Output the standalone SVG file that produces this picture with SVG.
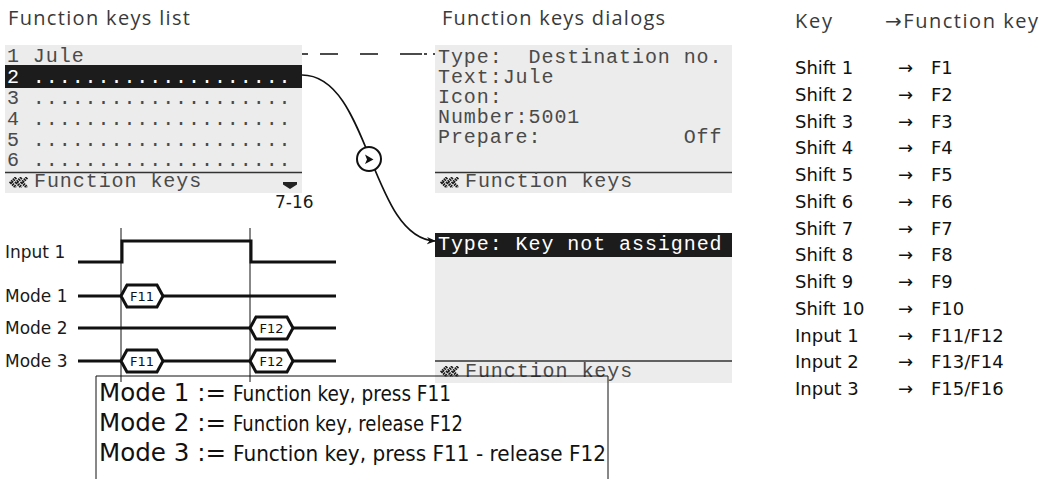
<svg xmlns="http://www.w3.org/2000/svg" width="1045" height="479" viewBox="0 0 1045 479">
<style>
.title{font-family:"Open Sans","DejaVu Sans",sans-serif;font-size:20px;fill:#3a3a3a}
.mono{font-family:"Liberation Mono","Courier New",monospace;font-size:20px;letter-spacing:0.93px;fill:#4a4a4a}
.monow{font-family:"Liberation Mono","Courier New",monospace;font-size:20px;letter-spacing:0.93px;fill:#ffffff}
.lbl{font-family:"DejaVu Sans",sans-serif;font-size:17px;fill:#1a1a1a}
.tbl{font-family:"DejaVu Sans",sans-serif;font-size:18px;fill:#111}
.hex{fill:#fff;stroke:#111;stroke-width:3;stroke-linejoin:miter}
.hext{font-family:"DejaVu Sans",sans-serif;font-size:13px;fill:#111;text-anchor:middle}
.sig{fill:none;stroke:#111;stroke-width:3}
.box{fill:#ececec}
.sep{stroke:#333;stroke-width:1.6}
.note{font-family:"DejaVu Sans",sans-serif;fill:#111}
</style>
<defs>
<symbol id="back" viewBox="0 0 20 11" width="20" height="11">
<path d="M7 0.5 L2 5.5 L7 10.5 M12.5 0.5 L7.5 5.5 L12.5 10.5 M18 0.5 L13 5.5 L18 10.5" fill="none" stroke="#1a1a1a" stroke-width="3" stroke-dasharray="1.6 0.7"/>
</symbol>
<marker id="arr" viewBox="0 0 10 10" refX="9" refY="5" markerWidth="9" markerHeight="9" orient="auto" markerUnits="userSpaceOnUse">
<path d="M0 1 L10 5 L0 9 L3 5 Z" fill="#111"/>
</marker>
</defs>

<text class="title" x="8" y="25" textLength="182" lengthAdjust="spacing">Function keys list</text>
<text class="title" x="442" y="25" textLength="223" lengthAdjust="spacing">Function keys dialogs</text>

<g id="list">
<rect class="box" x="5" y="45" width="297" height="148"/>
<rect x="5" y="65" width="297" height="23" fill="#1c1c1c"/>
<text class="mono" x="7" y="62">1 Jule</text>
<text class="monow" x="7" y="83">2 ....................</text>
<text class="mono" x="7" y="104">3 ....................</text>
<text class="mono" x="7" y="125">4 ....................</text>
<text class="mono" x="7" y="146">5 ....................</text>
<text class="mono" x="7" y="166">6 ....................</text>
<line class="sep" x1="5" y1="172.5" x2="302" y2="172.5"/>
<use href="#back" x="9" y="177"/>
<text class="mono" x="34" y="187">Function keys</text>
<path d="M283 182 H297 V184.5 L290 189 L283 184.5 Z" fill="#222"/>
<text class="lbl" x="275" y="208" font-size="16">7-16</text>
</g>

<g id="dialog1">
<rect class="box" x="435" y="45" width="297" height="148"/>
<text class="mono" x="438" y="63">Type:</text>
<text class="mono" x="528.5" y="63">Destination no.</text>
<text class="mono" x="438" y="83">Text:Jule</text>
<text class="mono" x="438" y="103">Icon:</text>
<text class="mono" x="438" y="123">Number:5001</text>
<text class="mono" x="438" y="143">Prepare:</text>
<text class="mono" x="683.7" y="143">Off</text>
<line class="sep" x1="435" y1="172.5" x2="732" y2="172.5"/>
<use href="#back" x="440" y="177"/>
<text class="mono" x="465" y="187">Function keys</text>
</g>

<g id="dialog2">
<rect class="box" x="435" y="233" width="297" height="150"/>
<rect x="435" y="233" width="297" height="24" fill="#1c1c1c"/>
<text class="monow" x="438" y="250">Type: Key not assigned</text>
<line class="sep" x1="435" y1="361" x2="732" y2="361"/>
<use href="#back" x="440" y="366"/>
<text class="mono" x="465" y="377">Function keys</text>
</g>

<g id="connectors">
<line x1="302" y1="54" x2="435" y2="54" stroke="#111" stroke-width="1.5" stroke-dasharray="6 12 18 22 18 22 22 2 3"/>
<path d="M302 75 C370 75 370 238 435 241" fill="none" stroke="#111" stroke-width="1.6" marker-end="url(#arr)"/>
<circle cx="369" cy="159" r="12" fill="#fff" stroke="#111" stroke-width="2"/>
<path d="M365 154.5 L373.5 159.5 L365 164 L367 159.5 Z" fill="#111"/>
</g>

<g id="timing">
<line x1="121" y1="228" x2="121" y2="382" stroke="#111" stroke-width="1"/>
<line x1="250" y1="228" x2="250" y2="382" stroke="#111" stroke-width="1"/>
<text class="lbl" x="5" y="258">Input 1</text>
<text class="lbl" x="5" y="302">Mode 1</text>
<text class="lbl" x="5" y="334">Mode 2</text>
<text class="lbl" x="5" y="367">Mode 3</text>
<path class="sig" d="M78 262 H122 V241 H251 V262 H336"/>
<path class="sig" d="M78 296 H336"/>
<path class="sig" d="M78 328 H336"/>
<path class="sig" d="M78 361 H336"/>
<path class="hex" d="M121 296 L127 285 H157 L163 296 L157 307 H127 Z"/>
<text class="hext" x="142" y="301">F11</text>
<path class="hex" d="M250 328 L256 317 H287 L293 328 L287 339 H256 Z"/>
<text class="hext" x="271.5" y="333">F12</text>
<path class="hex" d="M121 361 L127 350 H157 L163 361 L157 372 H127 Z"/>
<text class="hext" x="142" y="366">F11</text>
<path class="hex" d="M250 361 L256 350 H287 L293 361 L287 372 H256 Z"/>
<text class="hext" x="271.5" y="366">F12</text>
</g>

<g id="notes">
<path d="M96 480 V376 H608 V480" fill="none" stroke="#111" stroke-width="1"/>
<text class="note" x="99" y="401" font-size="25" textLength="127" lengthAdjust="spacingAndGlyphs">Mode 1 :=</text>
<text class="note" x="233" y="401" font-size="22" textLength="218" lengthAdjust="spacingAndGlyphs">Function key, press F11</text>
<text class="note" x="99" y="431" font-size="25" textLength="127" lengthAdjust="spacingAndGlyphs">Mode 2 :=</text>
<text class="note" x="233" y="431" font-size="22" textLength="230" lengthAdjust="spacingAndGlyphs">Function key, release F12</text>
<text class="note" x="99" y="461" font-size="25" textLength="127" lengthAdjust="spacingAndGlyphs">Mode 3 :=</text>
<text class="note" x="233" y="461" font-size="22" textLength="373" lengthAdjust="spacingAndGlyphs">Function key, press F11 - release F12</text>
</g>

<g id="table">
<text class="title" x="795" y="28" textLength="37" lengthAdjust="spacing">Key</text>
<text class="title" x="885" y="28" textLength="153" lengthAdjust="spacing">→Function key</text>
<g class="tbl">
<text x="795" y="74">Shift 1</text><text x="898" y="74">→</text><text x="931" y="74">F1</text>
<text x="795" y="100.75">Shift 2</text><text x="898" y="100.75">→</text><text x="931" y="100.75">F2</text>
<text x="795" y="127.5">Shift 3</text><text x="898" y="127.5">→</text><text x="931" y="127.5">F3</text>
<text x="795" y="154.25">Shift 4</text><text x="898" y="154.25">→</text><text x="931" y="154.25">F4</text>
<text x="795" y="181">Shift 5</text><text x="898" y="181">→</text><text x="931" y="181">F5</text>
<text x="795" y="207.75">Shift 6</text><text x="898" y="207.75">→</text><text x="931" y="207.75">F6</text>
<text x="795" y="234.5">Shift 7</text><text x="898" y="234.5">→</text><text x="931" y="234.5">F7</text>
<text x="795" y="261.25">Shift 8</text><text x="898" y="261.25">→</text><text x="931" y="261.25">F8</text>
<text x="795" y="288">Shift 9</text><text x="898" y="288">→</text><text x="931" y="288">F9</text>
<text x="795" y="314.75">Shift 10</text><text x="898" y="314.75">→</text><text x="931" y="314.75">F10</text>
<text x="795" y="341.5">Input 1</text><text x="898" y="341.5">→</text><text x="931" y="341.5">F11/F12</text>
<text x="795" y="368.25">Input 2</text><text x="898" y="368.25">→</text><text x="931" y="368.25">F13/F14</text>
<text x="795" y="395">Input 3</text><text x="898" y="395">→</text><text x="931" y="395">F15/F16</text>
</g>
</g>
</svg>
